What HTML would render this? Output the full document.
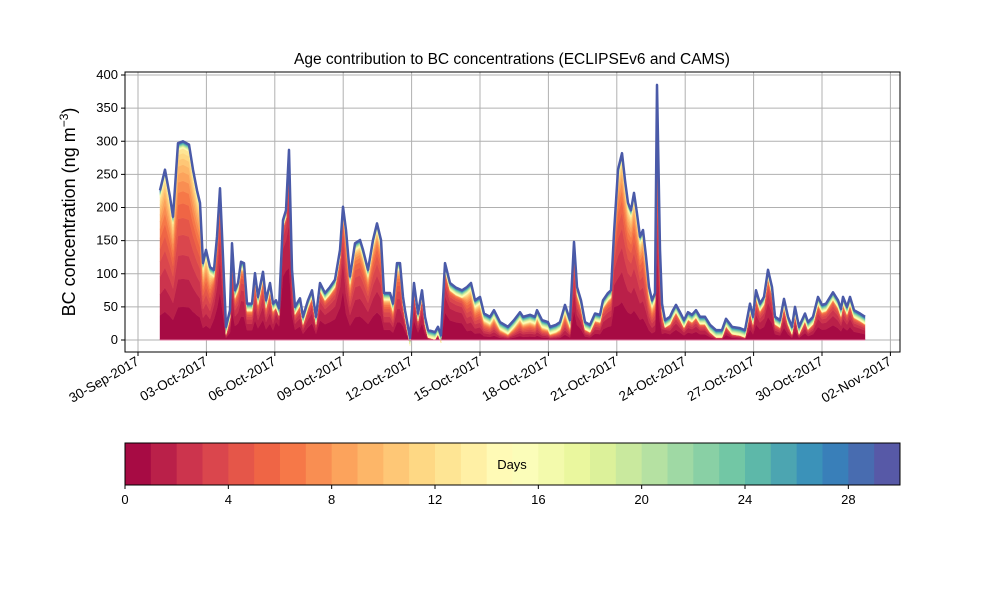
<!DOCTYPE html>
<html><head><meta charset="utf-8"><style>
body{margin:0;background:#fff;font-family:"Liberation Sans",sans-serif;}
svg text{font-family:"Liberation Sans",sans-serif;}
</style></head><body>
<svg id="chart" width="1000" height="600" viewBox="0 0 1000 600"></svg>
<script>
// ---- data ----
const tickDates = ["30-Sep-2017","03-Oct-2017","06-Oct-2017","09-Oct-2017","12-Oct-2017","15-Oct-2017","18-Oct-2017","21-Oct-2017","24-Oct-2017","27-Oct-2017","30-Oct-2017","02-Nov-2017"];
const tickDays = [-1,2,5,8,11,14,17,20,23,26,29,32];
const yTicks = [0,50,100,150,200,250,300,350,400];
const cbTicks = [0,4,8,12,16,20,24,28];
const px = [160,165,170,173,178,183,189,193,197,200,203,206,210,214,217,220,223,226,230,232,235,238,241,244,247,252,255,258,263,266,270,273,276,279,283,286,289,292,295,300,303,308,312,316,320,325,330,335,340,343,346,350,355,360,363,368,373,377,381,384,390,393,397,400,403,405,410,414,418,422,425,428,435,438,441,445,450,456,462,467,471,475,480,484,490,494,500,508,514,520,523,530,535,537,542,548,550,556,560,565,570,574,577,581,585,590,595,600,603,608,611,614,618,622,625,628,631,634,637,640,643,646,649,652,655,657,660,662,665,670,673,676,680,684,688,692,696,700,705,710,716,722,726,732,740,745,750,753,756,760,764,768,772,775,780,784,788,792,795,799,805,808,813,818,822,826,833,838,841,843,847,850,854,860,865];
const days = px.map(v => +((v - 160.8) / 22.8).toFixed(3));
const totals = [226,257,216,186,297,300,295,257,226,207,116,136,110,106,156,229,125,20,45,146,75,86,118,116,55,55,101,65,103,60,86,55,60,48,181,196,287,106,50,63,35,60,75,35,86,71,80,91,136,201,166,96,146,151,136,106,151,176,151,71,71,55,116,116,65,45,3,86,40,75,35,15,12,20,7,116,86,79,75,80,86,60,65,40,35,45,27,20,30,42,35,38,35,45,30,27,20,23,27,53,30,148,80,60,27,23,40,38,60,71,75,161,257,282,241,207,196,222,191,156,166,126,80,60,71,385,136,55,30,35,45,53,42,30,42,38,45,35,35,23,15,15,32,20,18,15,55,35,75,55,65,106,80,35,30,62,35,20,50,20,40,27,35,65,53,55,72,60,47,65,50,65,45,40,35];
const ageSegStart = [0,2.2,5,5.5,8,10.5,13.3,18,20,22,22.3];
const ageSegMean  = [6,2.5,1.2,2,3.5,2,5,2.5,4.5,1.2,2.2];

// ---- layout ----
const X0=125,X1=900,Y0=72,Y1=352;
const xs = d => 160.8 + d*22.8;
const ys = v => 340 - v*0.6625;
const svg = document.getElementById('chart');
const NS='http://www.w3.org/2000/svg';
function mk(tag, attrs, parent){const e=document.createElementNS(NS,tag);for(const k in attrs)e.setAttribute(k,attrs[k]);(parent||svg).appendChild(e);return e;}

const anchors=["#9e0142","#d53e4f","#f46d43","#fdae61","#fee08b","#ffffbf","#e6f598","#abdda4","#66c2a5","#3288bd","#5e4fa2"];
function hex(h){return [1,3,5].map(i=>parseInt(h.substr(i,2),16));}
function spectral(t){const p=t*10,i=Math.min(9,Math.floor(p)),f=p-i;const a=hex(anchors[i]),b=hex(anchors[i+1]);return `rgb(${a.map((v,j)=>Math.round(v+(b[j]-v)*f)).join(',')})`;}
const N=30, NY=13;

// grid
const grid=mk('g',{});


yTicks.forEach(v=>mk('line',{x1:X0,x2:X1,y1:ys(v),y2:ys(v),stroke:'#b0b0b0','stroke-width':1},grid));
tickDays.forEach(d=>mk('line',{x1:xs(d),x2:xs(d),y1:Y0,y2:Y1,stroke:'#b0b0b0','stroke-width':1},grid));

// layers
function meanAge(d){let m=ageSegMean[0];for(let i=0;i<ageSegStart.length;i++)if(d>=ageSegStart[i])m=ageSegMean[i];return m;}
const layerVals = days.map((d,i)=>{
  const T=totals[i];const m=meanAge(d);
  const old=Math.min(T*0.35,0.65);
  const rem=T-old*(N-NY);
  const w=[];let s=0;for(let k=0;k<NY;k++){const v=Math.exp(-k/m);w.push(v);s+=v;}
  const out=w.map(v=>rem*v/s);
  for(let k=NY;k<N;k++)out.push(old);
  return out;
});
const cum = days.map(()=>0);
const layersG=mk('g',{});


for(let k=0;k<N;k++){
  const lo=cum.slice();
  for(let i=0;i<days.length;i++)cum[i]+=layerVals[i][k];
  let dstr='M'+days.map((d,i)=>xs(d).toFixed(1)+','+ys(cum[i]).toFixed(1)).join('L');
  for(let i=days.length-1;i>=0;i--)dstr+='L'+xs(days[i]).toFixed(1)+','+ys(lo[i]).toFixed(1);
  const p=mk('path',{d:dstr+'Z',fill:spectral((k+0.5)/N),stroke:spectral((k+0.5)/N),'stroke-width':0.4},layersG);
  
  
}
const outline=mk('path',{d:'M'+days.map((d,i)=>xs(d).toFixed(1)+','+ys(totals[i]).toFixed(1)).join('L'),fill:'none',stroke:'#4a5aa8','stroke-width':2.5,'stroke-linejoin':'round'});


mk('line',{x1:xs(days[0]),x2:xs(days[days.length-1]),y1:340,y2:340,stroke:'#e07aa0','stroke-width':1});

// axes frame
const frame=mk('rect',{x:X0,y:Y0,width:X1-X0,height:Y1-Y0,fill:'none',stroke:'#000','stroke-width':1});


yTicks.forEach(v=>{mk('line',{x1:X0-4,x2:X0,y1:ys(v),y2:ys(v),stroke:'#000'});
  const t=mk('text',{x:X0-7,y:ys(v)+4,'text-anchor':'end','font-size':13});t.textContent=v;
  });
tickDates.forEach((lab,i)=>{const x=xs(tickDays[i]);mk('line',{x1:x,x2:x,y1:Y1,y2:Y1+4,stroke:'#000'});
  const t=mk('text',{x:x+2,y:Y1+12,'text-anchor':'end','font-size':13.5,transform:`rotate(-30 ${x+2} ${Y1+12})`});t.textContent=lab;
  });
const title=mk('text',{x:512,y:64,'text-anchor':'middle','font-size':15.5});
title.textContent='Age contribution to BC concentrations (ECLIPSEv6 and CAMS)';

const yl=mk('text',{x:0,y:0,'text-anchor':'middle','font-size':18,transform:'translate(75 212) rotate(-90)'});
yl.innerHTML='BC concentration (ng m<tspan dy="-7" font-size="12">−3</tspan><tspan dy="7">)</tspan>';


// colorbar
const cb=mk('g',{});


const CX0=125,CX1=900,CY0=443,CY1=485,cw=(CX1-CX0)/N;
for(let k=0;k<N;k++)mk('rect',{x:CX0+k*cw,y:CY0,width:cw+0.5,height:CY1-CY0,fill:spectral((k+0.5)/N)},cb);
mk('rect',{x:CX0,y:CY0,width:CX1-CX0,height:CY1-CY0,fill:'none',stroke:'#000'},cb);
cbTicks.forEach(v=>{const x=CX0+v*cw;mk('line',{x1:x,x2:x,y1:CY1,y2:CY1+4,stroke:'#000'},cb);
  const t=mk('text',{x:x,y:CY1+19,'text-anchor':'middle','font-size':13},cb);t.textContent=v;
  });
const dl=mk('text',{x:512,y:469,'text-anchor':'middle','font-size':13},cb);dl.textContent='Days';

</script>
</body></html>
